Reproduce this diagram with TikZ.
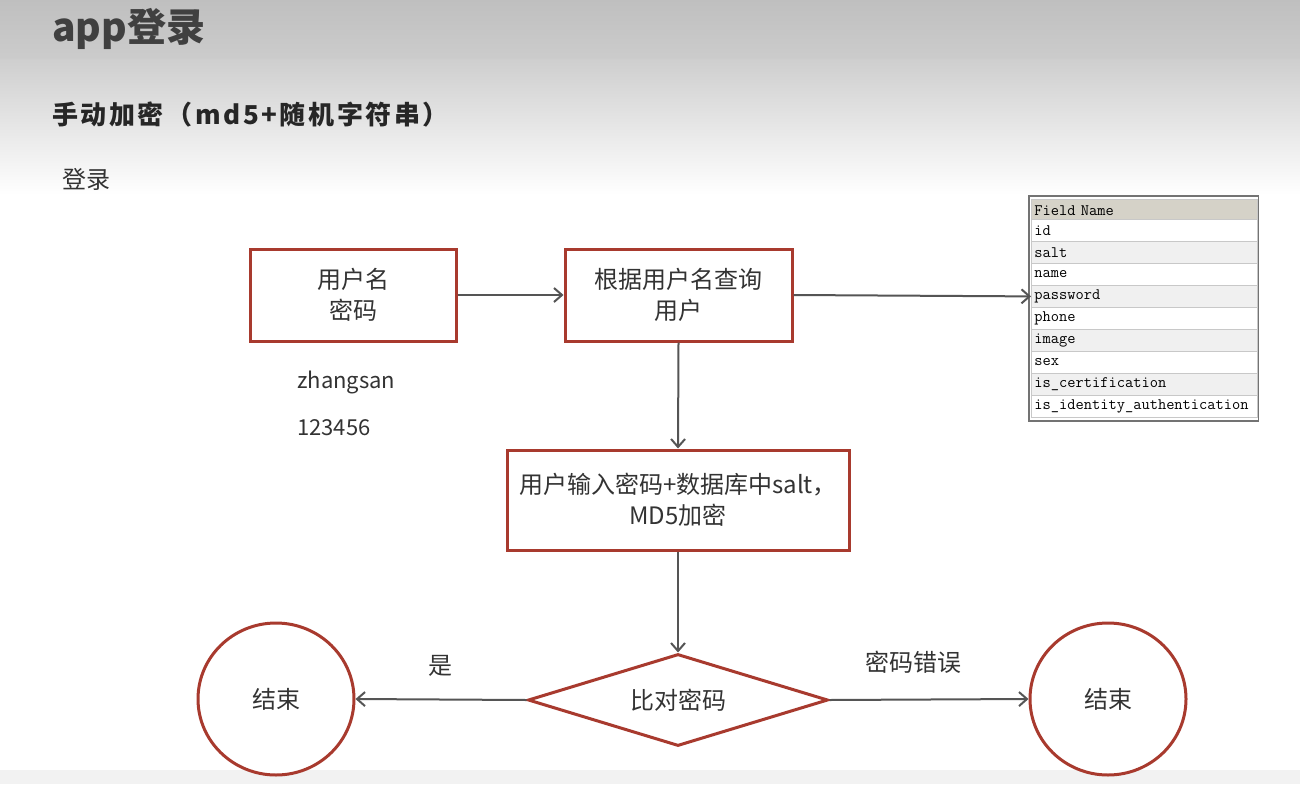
\documentclass[tikz,border=0pt]{standalone}
\usepackage{fontspec}
\setmainfont{Noto Sans CJK SC}
\usetikzlibrary{arrows.meta,shapes.geometric}
\definecolor{boxred}{HTML}{A83A2E}
\definecolor{arrowgray}{HTML}{555555}
\definecolor{txt}{HTML}{333333}
\definecolor{hdr}{HTML}{D5D2C8}
\definecolor{rowalt}{HTML}{F0F0F0}
\definecolor{gridgray}{HTML}{C8C8C8}
\tikzset{
  stepbox/.style={draw=boxred, line width=3pt, fill=white, rectangle, align=center,
    text=txt, font=\fontsize{24}{31}\selectfont, inner sep=0pt},
  endnode/.style={draw=boxred, line width=3pt, fill=white, ellipse, minimum width=156pt,
    minimum height=152pt, text=txt, font=\fontsize{24}{30}\selectfont, inner sep=0pt},
  decide/.style={draw=boxred, line width=3pt, fill=white, diamond, aspect=3.26,
    minimum width=300pt, minimum height=92pt, inner sep=0pt, text=txt,
    font=\fontsize{24}{30}\selectfont},
  flow/.style={draw=arrowgray, line width=2pt, -{Straight Barb[length=8pt,width=14pt,line width=2pt]}},
  lbl/.style={text=txt, font=\fontsize{22}{28}\selectfont, inner sep=0pt},
  rowc/.style={rectangle, anchor=north west, minimum width=226pt, minimum height=22pt,
    text width=220pt, align=left, inner xsep=3pt, inner ysep=0pt,
    font=\ttfamily\fontsize{16}{18}\selectfont, text=black, draw=gridgray, line width=0.8pt},
}
\begin{document}
\begin{tikzpicture}[x=1pt,y=-1pt]
\useasboundingbox (0,0) rectangle (1300,784);
% background
\fill[white] (0,0) rectangle (1300,784);
\shade[top color=black!25, bottom color=black!20] (0,0) rectangle (1300,60);
\shade[top color=black!19, bottom color=white] (0,60) rectangle (1300,195);
\fill[black!5] (0,770) rectangle (1300,784);
% titles
\node[anchor=west, text=black!75, font=\bfseries\fontsize{39}{44}\selectfont, inner sep=0pt] (title) at (52,29) {app登录};
\node[anchor=west, text=black!85, font=\bfseries\fontsize{26}{30}\selectfont\addfontfeatures{LetterSpace=10}, inner sep=0pt] (sub) at (52,115) {手动加密（md5+随机字符串）};
\node[anchor=west, text=txt, font=\fontsize{24}{30}\selectfont, inner sep=0pt] (login) at (62,179) {登录};
% boxes
\node[stepbox, minimum width=206pt, minimum height=92pt] (input) at (353,295) {用户名\\密码};
\node[stepbox, minimum width=227pt, minimum height=92pt] (query) at (678.5,295) {根据用户名查询\\用户};
\node[stepbox, minimum width=342pt, minimum height=100pt] (md5) at (678,500) {用户输入密码+数据库中salt，\\MD5加密};
\node[decide] (cmp) at (678,700) {比对密码};
\node[endnode] (endl) at (276,699) {结束};
\node[endnode] (endr) at (1108,699) {结束};
% sample values
\node[lbl, anchor=west] (uname) at (297,382) {zhangsan};
\node[lbl, anchor=west] (pwd) at (297,428) {123456};
% table
\fill[white] (1029,196) rectangle (1258,421);
\node[rowc, fill=hdr] (fh) at (1031,199) {Field~Name};
\node[rowc, fill=white] (f1) at (1031,219) {id};
\node[rowc, fill=rowalt] (f2) at (1031,241) {salt};
\node[rowc, fill=white] (f3) at (1031,263) {name};
\node[rowc, fill=rowalt] (f4) at (1031,285) {password};
\node[rowc, fill=white] (f5) at (1031,307) {phone};
\node[rowc, fill=rowalt] (f6) at (1031,329) {image};
\node[rowc, fill=white] (f7) at (1031,351) {sex};
\node[rowc, fill=rowalt] (f8) at (1031,373) {is\_certification};
\node[rowc, fill=white] (f9) at (1031,395) {is\_identity\_authentication};
\draw[black!55, line width=1.5pt] (1029,196) rectangle (1258.5,421);
% connectors
\draw[flow] (input.east) -- (query.west);
\draw[flow] (query.east) -- (f4.west);
\draw[flow] (query.south) -- (md5.north);
\draw[flow] (md5.south) -- (cmp.north);
\draw[flow] (cmp.west) -- (endl.east);
\draw[flow] (cmp.east) -- (endr.west);
\node[lbl, font=\fontsize{24}{30}\selectfont] (yes) at (440,666) {是};
\node[lbl, font=\fontsize{24}{30}\selectfont] (wrong) at (913,662) {密码错误};
\end{tikzpicture}
\end{document}
